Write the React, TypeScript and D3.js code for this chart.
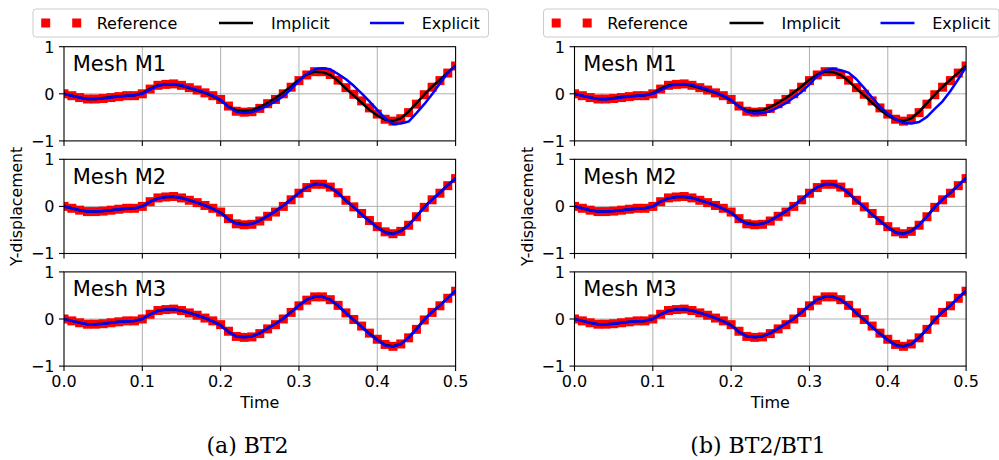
import React from "react";
import * as d3 from "d3";

const TIME = [
  0.0, 0.01, 0.02, 0.03, 0.04, 0.05, 0.06, 0.07, 0.08, 0.09,
  0.1, 0.11, 0.12, 0.13, 0.14, 0.15, 0.16, 0.17, 0.18, 0.19,
  0.2, 0.21, 0.22, 0.23, 0.24, 0.25, 0.26, 0.27, 0.28, 0.29,
  0.3, 0.31, 0.32, 0.33, 0.34, 0.35, 0.36, 0.37, 0.38, 0.39,
  0.4, 0.41, 0.42, 0.43, 0.44, 0.45, 0.46, 0.47, 0.48, 0.49,
  0.5,
];

const REFERENCE = [
  0.0, -0.04, -0.08, -0.11, -0.11, -0.1, -0.08, -0.06, -0.04, -0.04,
  0.0, 0.1, 0.18, 0.2, 0.21, 0.18, 0.13, 0.08, 0.02, -0.04,
  -0.12, -0.26, -0.37, -0.39, -0.38, -0.31, -0.21, -0.12, 0.0, 0.14,
  0.28, 0.4, 0.47, 0.47, 0.41, 0.29, 0.13, -0.01, -0.15, -0.3,
  -0.43, -0.54, -0.58, -0.53, -0.4, -0.22, -0.02, 0.14, 0.28, 0.44,
  0.59,
];

const IMPLICIT_M1 = [
  0.0, -0.04, -0.08, -0.11, -0.11, -0.09, -0.07, -0.05, -0.04, -0.03,
  0.01, 0.11, 0.18, 0.2, 0.2, 0.17, 0.12, 0.07, 0.02, -0.05,
  -0.14, -0.27, -0.35, -0.36, -0.35, -0.28, -0.19, -0.09, 0.03, 0.16,
  0.3, 0.41, 0.47, 0.46, 0.4, 0.27, 0.11, -0.04, -0.19, -0.34,
  -0.46, -0.55, -0.58, -0.52, -0.38, -0.2, -0.02, 0.15, 0.3, 0.45,
  0.6,
];

const IMPLICIT_M2 = [
  0.0, -0.04, -0.08, -0.11, -0.11, -0.1, -0.08, -0.06, -0.05, -0.04,
  0.0, 0.1, 0.17, 0.2, 0.2, 0.18, 0.13, 0.08, 0.02, -0.05,
  -0.13, -0.27, -0.36, -0.38, -0.37, -0.3, -0.2, -0.1, 0.02, 0.15,
  0.29, 0.41, 0.47, 0.47, 0.4, 0.28, 0.12, -0.02, -0.17, -0.31,
  -0.44, -0.55, -0.58, -0.52, -0.39, -0.21, -0.01, 0.15, 0.29, 0.45,
  0.6,
];

const IMPLICIT_M3 = [
  0.0, -0.04, -0.08, -0.11, -0.11, -0.1, -0.08, -0.06, -0.05, -0.04,
  0.0, 0.1, 0.18, 0.2, 0.2, 0.18, 0.13, 0.08, 0.02, -0.05,
  -0.13, -0.27, -0.37, -0.38, -0.37, -0.3, -0.2, -0.1, 0.01, 0.15,
  0.29, 0.41, 0.47, 0.47, 0.41, 0.28, 0.12, -0.02, -0.17, -0.31,
  -0.44, -0.55, -0.58, -0.53, -0.39, -0.21, -0.01, 0.15, 0.29, 0.45,
  0.6,
];

const EXPLICIT_M1_A = [
  0.0, -0.04, -0.08, -0.11, -0.11, -0.1, -0.08, -0.06, -0.04, -0.03,
  0.0, 0.09, 0.17, 0.2, 0.21, 0.18, 0.13, 0.08, 0.03, -0.04,
  -0.13, -0.28, -0.38, -0.41, -0.39, -0.33, -0.25, -0.16, -0.05, 0.1,
  0.27, 0.42, 0.52, 0.54, 0.52, 0.42, 0.31, 0.17, 0.01, -0.16,
  -0.34, -0.52, -0.64, -0.63, -0.59, -0.41, -0.22, -0.01, 0.22, 0.44,
  0.6,
];

const EXPLICIT_M1_B = [
  0.0, -0.04, -0.08, -0.11, -0.12, -0.1, -0.08, -0.06, -0.04, -0.03,
  0.0, 0.08, 0.16, 0.2, 0.21, 0.19, 0.14, 0.09, 0.03, -0.04,
  -0.13, -0.27, -0.38, -0.42, -0.41, -0.37, -0.29, -0.2, -0.08, 0.04,
  0.2, 0.38, 0.5, 0.53, 0.5, 0.45, 0.31, 0.12, -0.08, -0.27,
  -0.42, -0.54, -0.62, -0.63, -0.6, -0.49, -0.32, -0.16, 0.06, 0.31,
  0.57,
];

const EXPLICIT_M2 = [
  0.0, -0.04, -0.08, -0.11, -0.11, -0.1, -0.08, -0.06, -0.05, -0.04,
  0.0, 0.1, 0.17, 0.2, 0.21, 0.18, 0.13, 0.08, 0.02, -0.05,
  -0.14, -0.28, -0.37, -0.39, -0.37, -0.3, -0.2, -0.1, 0.02, 0.15,
  0.29, 0.41, 0.48, 0.47, 0.41, 0.29, 0.13, -0.02, -0.17, -0.32,
  -0.45, -0.56, -0.59, -0.53, -0.4, -0.22, -0.02, 0.15, 0.29, 0.45,
  0.6,
];

const EXPLICIT_M3 = [
  0.0, -0.04, -0.08, -0.11, -0.11, -0.1, -0.08, -0.06, -0.05, -0.04,
  0.0, 0.1, 0.17, 0.2, 0.21, 0.18, 0.13, 0.08, 0.02, -0.05,
  -0.14, -0.28, -0.37, -0.39, -0.37, -0.3, -0.2, -0.1, 0.01, 0.15,
  0.29, 0.41, 0.48, 0.47, 0.41, 0.29, 0.13, -0.02, -0.17, -0.32,
  -0.45, -0.56, -0.59, -0.53, -0.4, -0.22, -0.02, 0.15, 0.29, 0.45,
  0.6,
];

const MESH_LABELS = ["Mesh M1", "Mesh M2", "Mesh M3"];
const X_TICKS = [0, 0.1, 0.2, 0.3, 0.4, 0.5];
const X_TICK_LABELS = ["0.0", "0.1", "0.2", "0.3", "0.4", "0.5"];
const Y_TICKS = [-1, 0, 1];
const Y_TICK_LABELS = ["\u22121", "0", "1"];
const LEGEND_LABELS = ["Reference", "Implicit", "Explicit"];
const CAPTIONS = ["(a) BT2", "(b) BT2/BT1"];

const FONT = "'DejaVu Sans', sans-serif";

type FigProps = {
  offset: number;
  caption: string;
  implicit: number[][];
  explicit: number[][];
  idx: number;
};

const PANEL_TOPS = [46.7, 159.3, 271.9];
const PANEL_H = 94.2;
const AX_LEFT = 64;
const AX_W = 391.6;
const MS = 9;

function Figure({ offset, caption, implicit, explicit, idx }: FigProps) {
  const left = AX_LEFT + offset;
  const x = d3.scaleLinear().domain([0, 0.5]).range([left, left + AX_W]);
  const lastBottom = PANEL_TOPS[2] + PANEL_H;
  return (
    <g>
      <g>
        <rect x={33 + offset} y={9} width={455.5} height={28} rx={3} fill="#fff" stroke="#cccccc" strokeWidth={1} />
        <rect x={45.7 - MS / 2 + offset} y={23 - MS / 2} width={MS} height={MS} fill="#ff0000" />
        <rect x={76.7 - MS / 2 + offset} y={23 - MS / 2} width={MS} height={MS} fill="#ff0000" />
        <text x={96.7 + offset} y={28.8} fontFamily={FONT} fontSize={16}>{LEGEND_LABELS[0]}</text>
        <line x1={219 + offset} x2={253 + offset} y1={23} y2={23} stroke="#000" strokeWidth={2.5} />
        <text x={271 + offset} y={28.8} fontFamily={FONT} fontSize={16}>{LEGEND_LABELS[1]}</text>
        <line x1={370 + offset} x2={404 + offset} y1={23} y2={23} stroke="#0000ff" strokeWidth={2.5} />
        <text x={421.7 + offset} y={28.8} fontFamily={FONT} fontSize={16}>{LEGEND_LABELS[2]}</text>
      </g>
      {PANEL_TOPS.map((top, p) => {
        const y = d3.scaleLinear().domain([-1, 1]).range([top + PANEL_H, top]);
        const line = d3
          .line<number>()
          .x((_, i) => x(TIME[i]))
          .y((d) => y(d));
        const clipId = `clip-${idx}-${p}`;
        return (
          <g key={p}>
            <defs>
              <clipPath id={clipId}>
                <rect x={left} y={top} width={AX_W} height={PANEL_H} />
              </clipPath>
            </defs>
            {X_TICKS.slice(1, -1).map((t) => (
              <line key={t} x1={x(t)} x2={x(t)} y1={top} y2={top + PANEL_H} stroke="#b0b0b0" strokeWidth={1} />
            ))}
            <line x1={left} x2={left + AX_W} y1={y(0)} y2={y(0)} stroke="#b0b0b0" strokeWidth={1} />
            <g clipPath={`url(#${clipId})`}>
              {REFERENCE.map((v, i) => (
                <rect key={i} x={x(TIME[i]) - MS / 2} y={y(v) - MS / 2} width={MS} height={MS} fill="#ff0000" />
              ))}
              <path d={line(implicit[p]) || ""} fill="none" stroke="#000" strokeWidth={2.5} strokeLinejoin="round" />
              <path d={line(explicit[p]) || ""} fill="none" stroke="#0000ff" strokeWidth={2.5} strokeLinejoin="round" />
            </g>
            <rect x={left} y={top} width={AX_W} height={PANEL_H} fill="none" stroke="#000" strokeWidth={1.1} />
            {X_TICKS.map((t) => (
              <line key={t} x1={x(t)} x2={x(t)} y1={top + PANEL_H} y2={top + PANEL_H + 5} stroke="#000" strokeWidth={1.1} />
            ))}
            {Y_TICKS.map((t, i) => (
              <g key={t}>
                <line x1={left - 5} x2={left} y1={y(t)} y2={y(t)} stroke="#000" strokeWidth={1.1} />
                <text x={left - 9.5} y={y(t) + 5.8} textAnchor="end" fontFamily={FONT} fontSize={16}>
                  {Y_TICK_LABELS[i]}
                </text>
              </g>
            ))}
            <text x={left + 8.7} y={top + 24.2} fontFamily={FONT} fontSize={21}>
              {MESH_LABELS[p]}
            </text>
          </g>
        );
      })}
      {X_TICKS.map((t, i) => (
        <text key={t} x={x(t)} y={lastBottom + 21.3} textAnchor="middle" fontFamily={FONT} fontSize={16}>
          {X_TICK_LABELS[i]}
        </text>
      ))}
      <text x={left + AX_W / 2} y={408.3} textAnchor="middle" fontFamily={FONT} fontSize={16}>
        Time
      </text>
      <text
        transform={`translate(${22 + offset},${(PANEL_TOPS[1] + PANEL_H / 2).toFixed(1)}) rotate(-90)`}
        textAnchor="middle"
        fontFamily={FONT}
        fontSize={15.7}
      >
        Y-displacement
      </text>
      <text
        x={247.5 + offset}
        y={452.5}
        textAnchor="middle"
        fontFamily="'DejaVu Serif', 'Liberation Serif', serif"
        fontSize={22}
      >
        {caption}
      </text>
    </g>
  );
}

export default function App() {
  return (
    <svg
      width={999}
      height={460}
      style={{ position: "absolute", left: 0, top: 0, background: "#fff" }}
    >
      <rect x={0} y={0} width={999} height={460} fill="#fff" />
      <Figure
        offset={0}
        idx={0}
        caption={CAPTIONS[0]}
        implicit={[IMPLICIT_M1, IMPLICIT_M2, IMPLICIT_M3]}
        explicit={[EXPLICIT_M1_A, EXPLICIT_M2, EXPLICIT_M3]}
      />
      <Figure
        offset={510.5}
        idx={1}
        caption={CAPTIONS[1]}
        implicit={[IMPLICIT_M1, IMPLICIT_M2, IMPLICIT_M3]}
        explicit={[EXPLICIT_M1_B, EXPLICIT_M2, EXPLICIT_M3]}
      />
    </svg>
  );
}
